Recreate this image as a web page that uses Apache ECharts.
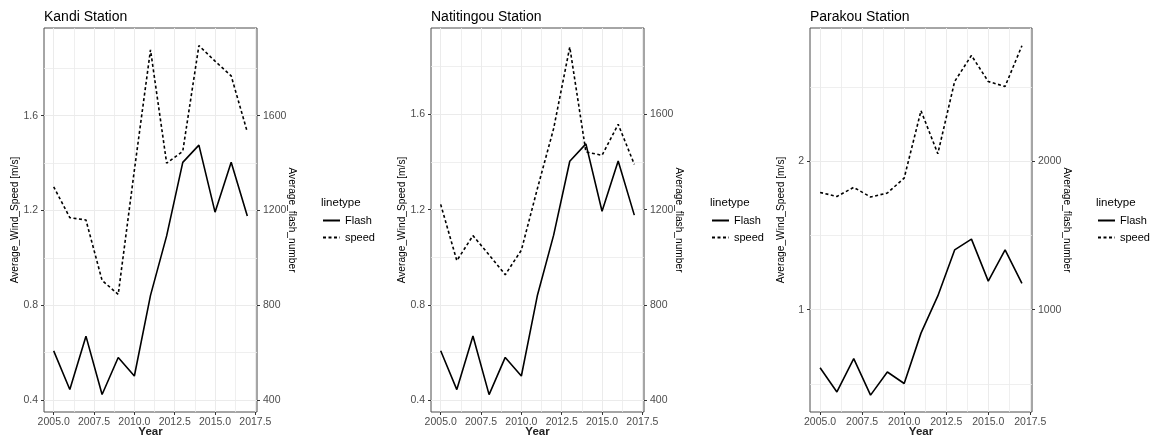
<!DOCTYPE html>
<html><head><meta charset="utf-8">
<script src="https://cdn.jsdelivr.net/npm/echarts@6/dist/echarts.min.js"></script>
<style>html,body{margin:0;padding:0;background:#fff}#c{width:1157px;height:437px}</style>
</head><body><div id="c"></div>
<script>
// ---- data ----
const years = [2005, 2006, 2007, 2008, 2009, 2010, 2011, 2012, 2013, 2014, 2015, 2016, 2017];
const flashNumber = [608, 445, 670, 424, 580, 502, 842, 1093, 1403, 1476, 1193, 1404, 1177];
const kandiSpeed = [1.30, 1.17, 1.16, 0.905, 0.846, 1.37, 1.878, 1.40, 1.45, 1.896, 1.83, 1.768, 1.531];
const natitingouSpeed = [1.222, 0.986, 1.091, 1.01, 0.927, 1.03, 1.29, 1.54, 1.882, 1.442, 1.428, 1.558, 1.39];
const parakouSpeed = [1.791, 1.764, 1.825, 1.76, 1.787, 1.888, 2.342, 2.052, 2.539, 2.715, 2.539, 2.506, 2.78];
const stationNames = ['Kandi Station', 'Natitingou Station', 'Parakou Station'];
const xTicks = [2005, 2007.5, 2010, 2012.5, 2015, 2017.5];
const xMinorTicks = [2006.25, 2008.75, 2011.25, 2013.75, 2016.25];
const speedTicksSmall = [0.4, 0.8, 1.2, 1.6];
const speedMinorSmall = [0.6, 1.0, 1.4, 1.8];
const flashTicksSmall = [400, 800, 1200, 1600];
const speedTicksLarge = [1, 2];
const speedMinorLarge = [0.5, 1.5, 2.5];
const flashTicksLarge = [1000, 2000];
const legendTitle = 'linetype';
const xName = 'Year';
const yLeftName = 'Average_Wind_Speed [m/s]';
const yRightName = 'Average_flash_number';

// ---- layout ----
const speeds = [kandiSpeed, natitingouSpeed, parakouSpeed];
const panels = [
  {left: 44, width: 213, ymin: 0.35, ymax: 1.97, ticks: speedTicksSmall, minor: speedMinorSmall, fticks: flashTicksSmall, lg: 322},
  {left: 431, width: 213, ymin: 0.351, ymax: 1.962, ticks: speedTicksSmall, minor: speedMinorSmall, fticks: flashTicksSmall, lg: 711},
  {left: 810, width: 222, ymin: 0.31, ymax: 2.90, ticks: speedTicksLarge, minor: speedMinorLarge, fticks: flashTicksLarge, lg: 1097}
];
const FONT = 'Liberation Sans, Arial, sans-serif';
const TOP = 28, HEIGHT = 384;
const gridCol = '#EBEBEB';
const tickLabel = {color: '#4D4D4D', fontSize: 10.5, fontFamily: FONT};
const DASH = [3, 2.5];

const option = {
  animation: false,
  backgroundColor: '#fff',
  title: [], grid: [], xAxis: [], yAxis: [], series: [], legend: []
};

panels.forEach((p, i) => {
  option.title.push({text: stationNames[i], left: p.left, top: 10, padding: 0,
    textStyle: {fontSize: 14, fontWeight: 'normal', color: '#000', fontFamily: FONT}});
  option.title.push({text: legendTitle, left: p.lg - 1, top: 197, padding: 0,
    textStyle: {fontSize: 11.5, fontWeight: 'normal', color: '#000', fontFamily: FONT}});
  option.grid.push({left: p.left, top: TOP, width: p.width, height: HEIGHT, show: true,
    outerBoundsMode: 'none', containLabel: false,
    borderColor: '#4d4d4d', borderWidth: 1, backgroundColor: 'transparent'});
  // main x axis
  option.xAxis.push({type: 'value', gridIndex: i, min: 2004.4, max: 2017.6, position: 'bottom',
    name: xName, nameLocation: 'middle', nameGap: 14, nameMoveOverlap: false,
    nameTextStyle: {fontSize: 11.5, fontWeight: 'bold', color: '#222', fontFamily: FONT},
    axisLine: {show: false},
    axisTick: {show: true, length: 3, customValues: xTicks, lineStyle: {color: '#333'}},
    axisLabel: {customValues: xTicks, margin: 5, formatter: v => v.toFixed(1), ...tickLabel},
    splitLine: {show: true, lineStyle: {color: gridCol, width: 1}}
  });
  // minor x grid
  option.xAxis.push({type: 'value', gridIndex: i, min: 2004.4, max: 2017.6, position: 'top',
    axisLine: {show: false}, axisLabel: {show: false},
    axisTick: {show: false, customValues: xMinorTicks},
    splitLine: {show: true, lineStyle: {color: gridCol, width: 0.8}}
  });
  // left y
  option.yAxis.push({type: 'value', gridIndex: i, min: p.ymin, max: p.ymax, position: 'left',
    name: yLeftName, nameLocation: 'middle', nameGap: 24, nameMoveOverlap: false,
    nameTextStyle: {fontSize: 10.2, color: '#000', fontFamily: FONT},
    axisLine: {show: false},
    axisTick: {show: true, length: 3, customValues: p.ticks, lineStyle: {color: '#333'}},
    axisLabel: {customValues: p.ticks, margin: 6, formatter: v => (p.ticks === speedTicksLarge ? String(Math.round(v)) : v.toFixed(1)), ...tickLabel},
    splitLine: {show: true, lineStyle: {color: gridCol, width: 1}}
  });
  // right y (flash)
  option.yAxis.push({type: 'value', gridIndex: i, min: p.ymin * 1000, max: p.ymax * 1000, position: 'right',
    name: yRightName, nameLocation: 'middle', nameGap: 30, nameRotate: -90, nameMoveOverlap: false,
    nameTextStyle: {fontSize: 10.2, color: '#000', fontFamily: FONT},
    axisLine: {show: false},
    axisTick: {show: true, length: 3, customValues: p.fticks, lineStyle: {color: '#333'}},
    axisLabel: {customValues: p.fticks, margin: 6, formatter: v => String(Math.round(v)), ...tickLabel},
    splitLine: {show: false}
  });
  // minor y grid
  option.yAxis.push({type: 'value', gridIndex: i, min: p.ymin, max: p.ymax, position: 'left',
    axisLine: {show: false}, axisLabel: {show: false},
    axisTick: {show: false, customValues: p.minor},
    splitLine: {show: true, lineStyle: {color: gridCol, width: 0.8}}
  });
  option.series.push({name: 'Flash', type: 'line', xAxisIndex: 2 * i, yAxisIndex: 3 * i + 1,
    symbol: 'none', lineStyle: {color: '#000', width: 1.6, type: 'solid'}, itemStyle: {color: '#000'},
    data: years.map((y, k) => [y, flashNumber[k]]), z: 3});
  option.series.push({name: 'speed', type: 'line', xAxisIndex: 2 * i, yAxisIndex: 3 * i,
    symbol: 'none', lineStyle: {color: '#000', width: 1.6, type: DASH}, itemStyle: {color: '#000'},
    data: years.map((y, k) => [y, speeds[i][k]]), z: 3});
  option.legend.push({left: p.lg, top: 215, padding: 0, orient: 'vertical', itemWidth: 17, itemHeight: 10, itemGap: 6,
    selectedMode: false, data: ['Flash', 'speed'],
    itemStyle: {opacity: 0},
    textStyle: {fontSize: 11, color: '#000', fontFamily: FONT}});
});

const chart = echarts.init(document.getElementById('c'), null, {renderer: 'canvas'});
chart.setOption(option);
</script>
</body></html>
